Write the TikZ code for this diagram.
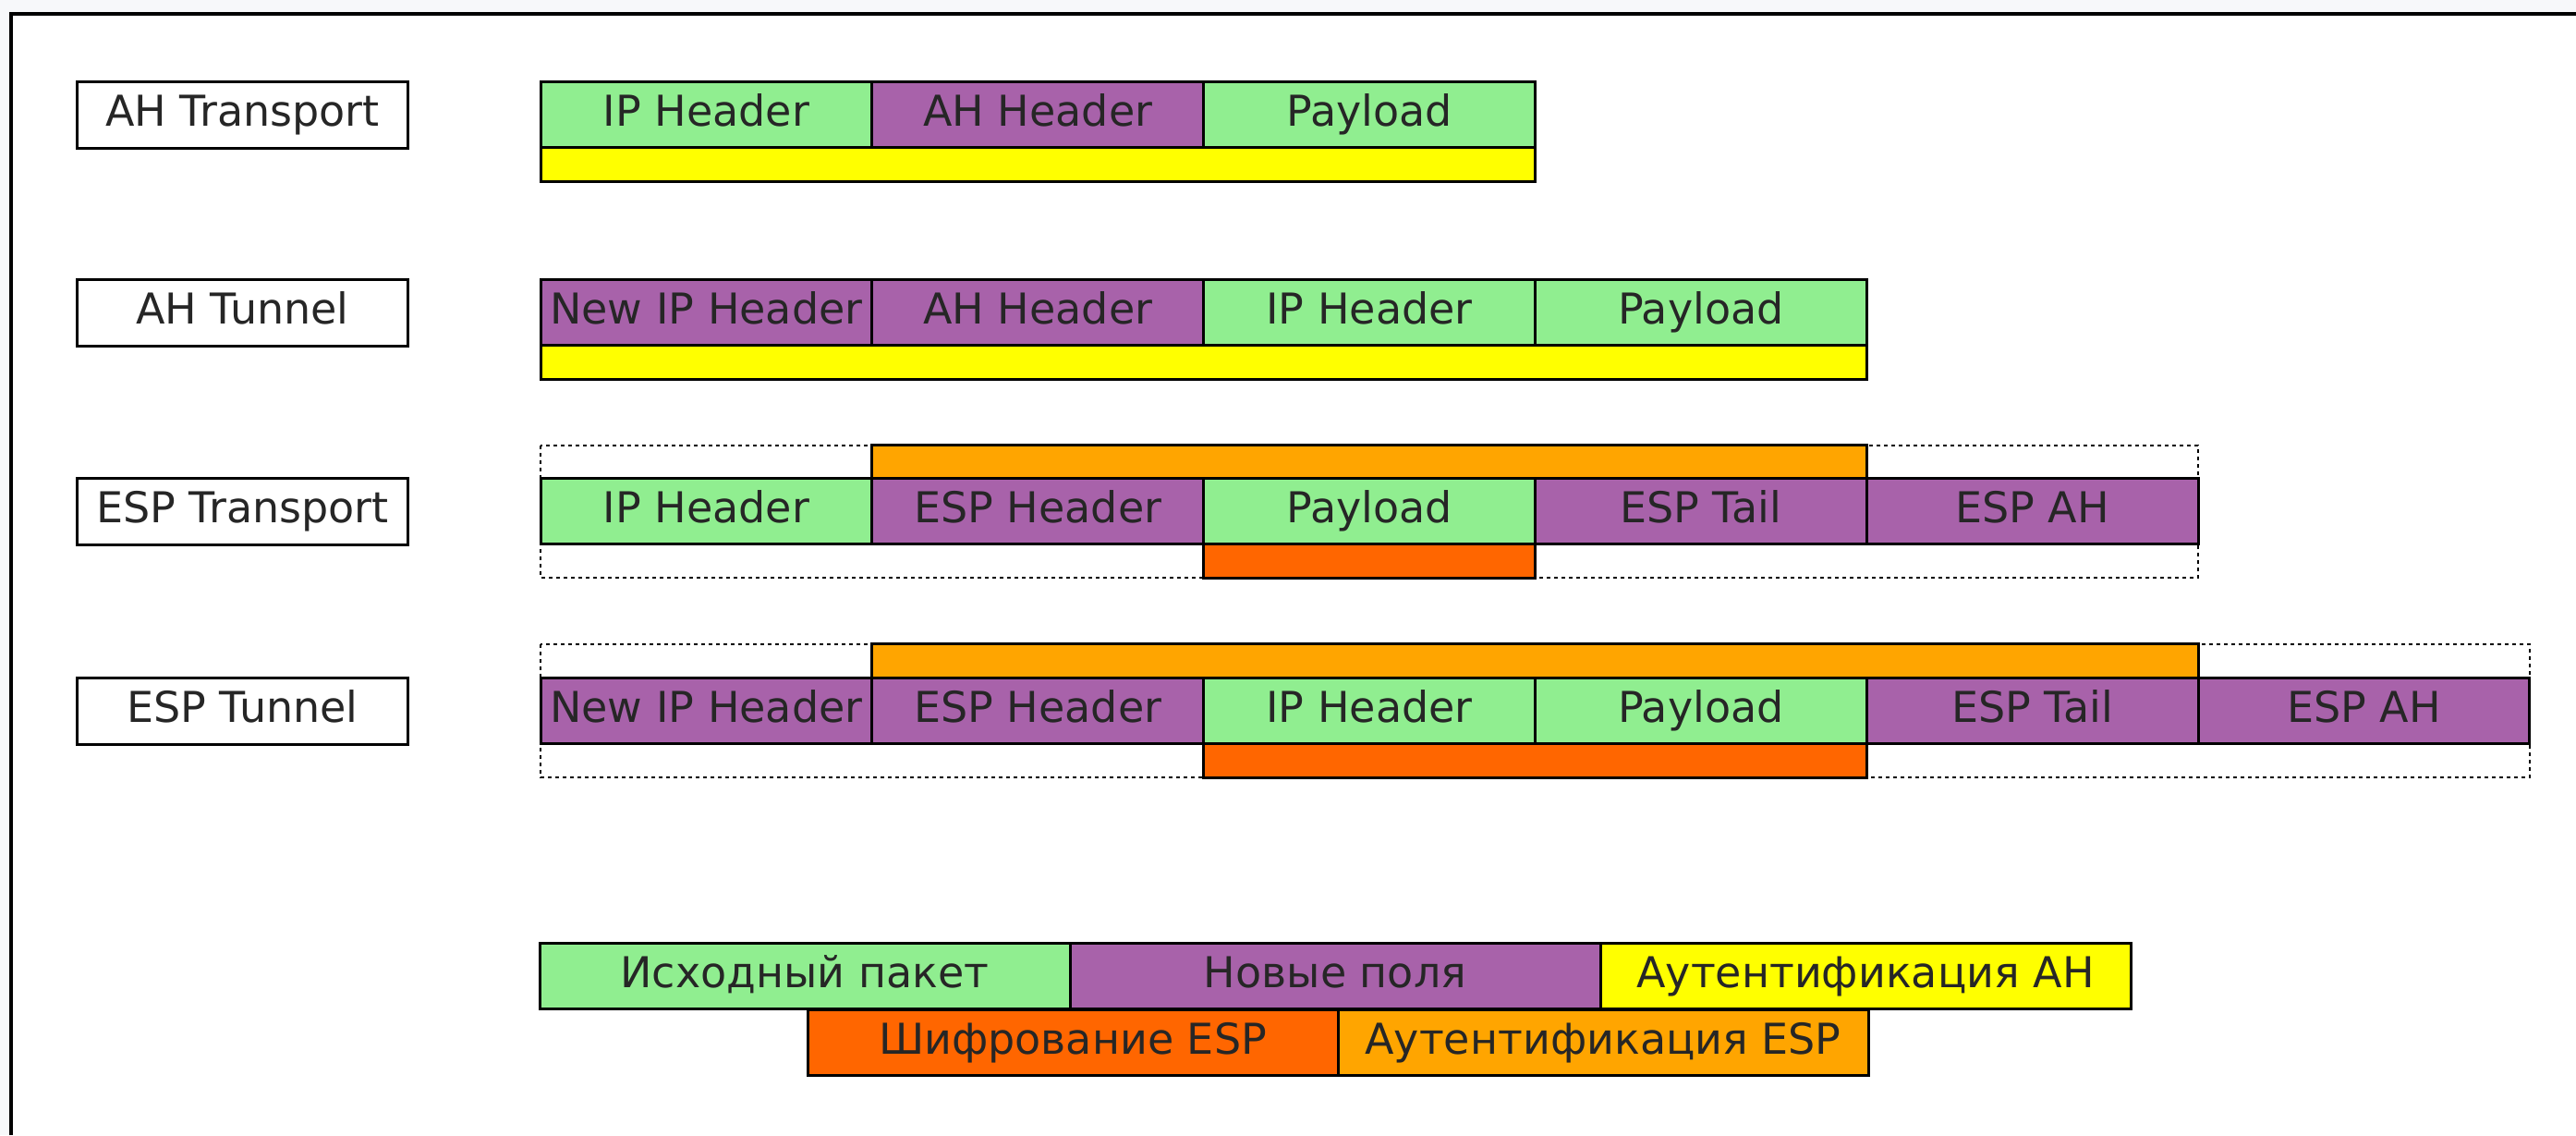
\documentclass[tikz,border=0pt]{standalone}
\usepackage{fontspec}
\setmainfont{DejaVu Sans}
\newlength{\du}
\setlength{\du}{0.5pt}
\newcommand{\fieldfont}{\fontsize{23}{27}\selectfont}
\definecolor{framegray}{RGB}{247,248,250}
\definecolor{origgreen}{RGB}{144,238,144}
\definecolor{newpurple}{RGB}{168,98,170}
\definecolor{ahyellow}{RGB}{255,255,0}
\definecolor{espauth}{RGB}{255,165,0}
\definecolor{espenc}{RGB}{255,102,0}
\tikzset{
  cell/.style={draw=black, line width=3\du, inner sep=0pt, outer sep=0pt,
    anchor=north west, font=\fieldfont, text=black!85,
    text height=17pt, text depth=4.5pt},
  field/.style={cell, minimum width=358.8\du, minimum height=71\du},
  mode/.style={field, fill=white, minimum height=72\du},
  bar/.style={cell, minimum height=37\du, text height=0pt, text depth=0pt},
  legend/.style={cell, minimum width=574\du, minimum height=71\du},
  orig/.style={fill=origgreen},
  newf/.style={fill=newpurple},
  ahauth/.style={fill=ahyellow},
  espa/.style={fill=espauth},
  espe/.style={fill=espenc},
  espframe/.style={draw=black, line width=2\du, dash pattern=on 4\du off 4\du}
}
\begin{document}
\begin{tikzpicture}
\pgftransformyscale{-1.000000}
\useasboundingbox (0\du,0\du) rectangle (2788\du,1228\du);
% frame
\fill[framegray] (0\du,0\du) rectangle (2788\du,1228\du);
\fill[white] (12\du,15\du) rectangle (2788\du,1228\du);
\draw[line width=4\du] (12\du,1228\du) -- (12\du,15\du) -- (2788\du,15\du);
% AH Transport
\node[mode] (ahtr) at (83\du,88\du){AH Transport};
\node[field, orig] (ahtr-ip) at (585\du,88\du){IP Header};
\node[field, newf] (ahtr-ah) at (943.8\du,88\du){AH Header};
\node[field, orig] (ahtr-pl) at (1302.6\du,88\du){Payload};
\node[bar, ahauth, minimum width=1076.4\du] (ahtr-auth) at (585\du,159\du){};
% AH Tunnel
\node[mode] (ahtu) at (83\du,302\du){AH Tunnel};
\node[field, newf] (ahtu-nip) at (585\du,302\du){New IP Header};
\node[field, newf] (ahtu-ah) at (943.8\du,302\du){AH Header};
\node[field, orig] (ahtu-ip) at (1302.6\du,302\du){IP Header};
\node[field, orig] (ahtu-pl) at (1661.4\du,302\du){Payload};
\node[bar, ahauth, minimum width=1435.2\du] (ahtu-auth) at (585\du,373\du){};
% ESP Transport
\draw[espframe] (585\du,482\du) rectangle (2379\du,625\du);
\node[mode] (esptr) at (83\du,517\du){ESP Transport};
\node[bar, espa, minimum width=1076.4\du] (esptr-auth) at (943.8\du,481\du){};
\node[field, orig] (esptr-ip) at (585\du,517\du){IP Header};
\node[field, newf] (esptr-esp) at (943.8\du,517\du){ESP Header};
\node[field, orig] (esptr-pl) at (1302.6\du,517\du){Payload};
\node[field, newf] (esptr-tail) at (1661.4\du,517\du){ESP Tail};
\node[field, newf] (esptr-ah) at (2020.2\du,517\du){ESP AH};
\node[bar, espe, minimum width=358.8\du] (esptr-enc) at (1302.6\du,588\du){};
% ESP Tunnel
\draw[espframe] (585\du,697\du) rectangle (2737.8\du,841\du);
\node[mode] (esptu) at (83\du,733\du){ESP Tunnel};
\node[bar, espa, minimum width=1435.2\du] (esptu-auth) at (943.8\du,696\du){};
\node[field, newf] (esptu-nip) at (585\du,733\du){New IP Header};
\node[field, newf] (esptu-esp) at (943.8\du,733\du){ESP Header};
\node[field, orig] (esptu-ip) at (1302.6\du,733\du){IP Header};
\node[field, orig] (esptu-pl) at (1661.4\du,733\du){Payload};
\node[field, newf] (esptu-tail) at (2020.2\du,733\du){ESP Tail};
\node[field, newf] (esptu-ah) at (2379\du,733\du){ESP AH};
\node[bar, espe, minimum width=717.6\du] (esptu-enc) at (1302.6\du,804\du){};
% legend
\node[legend, orig] (key-orig) at (584\du,1020\du){Исходный пакет};
\node[legend, newf] (key-new) at (1158\du,1020\du){Новые поля};
\node[legend, ahauth] (key-ah) at (1732\du,1020\du){Аутентификация AH};
\node[legend, espe] (key-enc) at (874\du,1092\du){Шифрование ESP};
\node[legend, espa] (key-auth) at (1448\du,1092\du){Аутентификация ESP};
\end{tikzpicture}
\end{document}
